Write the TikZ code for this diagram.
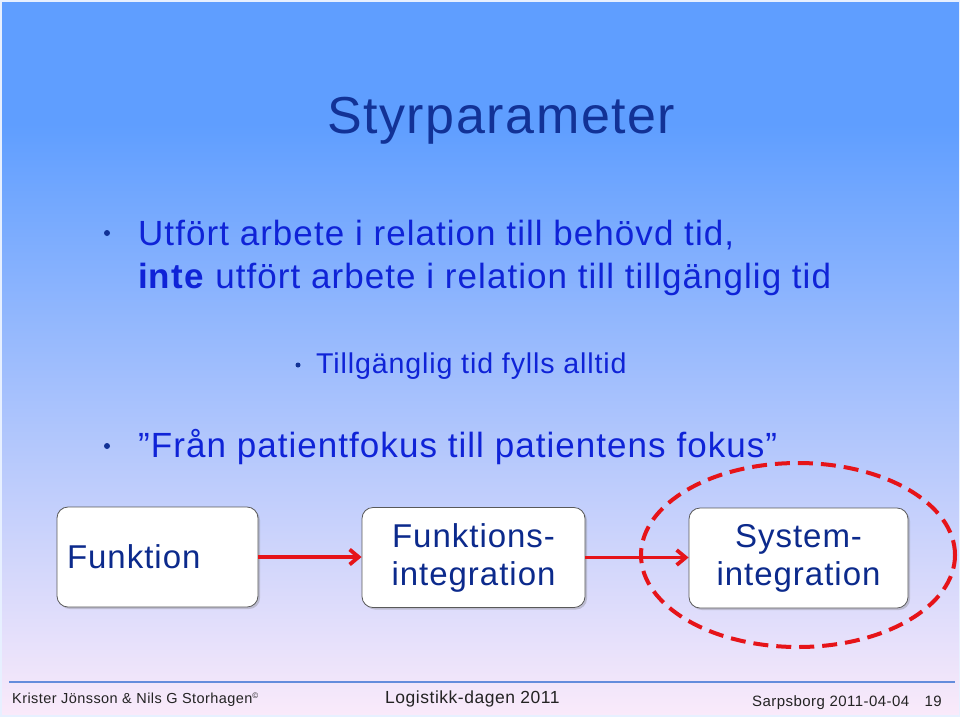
\documentclass[tikz,border=0pt]{standalone}
\usepackage{fontspec}
\setmainfont{Liberation Sans}[LetterSpace=3]
\usepackage{tikz}
\usetikzlibrary{arrows.meta,positioning,shadows}
\definecolor{slideBlue}{RGB}{95,158,255}
\definecolor{slideMid}{RGB}{172,202,246}
\definecolor{slidePink}{RGB}{250,234,250}
\definecolor{titleBlue}{RGB}{18,50,150}
\definecolor{bulletBlue}{RGB}{15,35,215}
\definecolor{boxBlue}{RGB}{12,42,140}
\definecolor{flowRed}{RGB}{230,20,25}
\definecolor{footLine}{RGB}{100,140,220}
\definecolor{footGray}{RGB}{35,35,35}

\begin{document}
\begin{tikzpicture}[x=1pt,y=-1pt,
    txt/.style={anchor=base west, inner sep=0pt},
    bulletdot/.style={circle, fill=titleBlue, inner sep=0pt, minimum size=6pt},
    stage/.style={draw=black!65, line width=0.8pt, fill=white, rounded corners=11pt,
        minimum height=100pt, text=boxBlue, font=\fontsize{33}{38}\selectfont,
        drop shadow={shadow xshift=2pt, shadow yshift=-2pt, opacity=0.35}},
    flow/.style={flowRed, line width=3.8pt, -{Straight Barb[length=9pt,width=15pt]}}]

    % background
    \useasboundingbox (0,0) rectangle (960,716);
    \fill[slideBlue] (0,0) rectangle (960,125);
    \shade[top color=slideBlue, middle color=slideMid, bottom color=slidePink]
        (0,124) rectangle (960,716);
    \draw[white!85!slideBlue, line width=3pt] (0,0) rectangle (960,716);

    % title
    \node[txt, text=titleBlue, font=\fontsize{52}{60}\selectfont] (title) at (327,133) {Styrparameter};

    % bullets
    \node[bulletdot] (dot1) at (107,233) {};
    \node[txt, text=bulletBlue, font=\fontsize{35}{42}\selectfont] (line1) at (138,245)
        {Utfört arbete i relation till behövd tid,};
    \node[txt, text=bulletBlue, font=\fontsize{35}{42}\selectfont] (line2) at (138,288)
        {\textbf{inte} utfört arbete i relation till tillgänglig tid};
    \node[bulletdot, minimum size=5pt] (dot2) at (298,365) {};
    \node[txt, text=bulletBlue, font=\fontsize{28.6}{34}\selectfont] (line3) at (316,373)
        {Tillgänglig tid fylls alltid};
    \node[bulletdot] (dot3) at (107,446) {};
    \node[txt, text=bulletBlue, font=\fontsize{35}{42}\selectfont] (line4) at (138,457)
        {”Från patientfokus till patientens fokus”};

    % chain of stages
    \node[stage, minimum width=201pt, text width=181pt, inner sep=10pt, align=left] (funk) at (157.5,557) {Funktion};
    \node[stage, minimum width=223pt, align=center] (funkint) at (473.5,557.5) {Funktions-\\integration};
    \node[stage, minimum width=219pt, align=center] (sysint) at (798.5,558) {System-\\integration};
    \draw[flow] (funk) -- (funk -| funkint.west);
    \draw[flow] (funkint) -- (funkint -| sysint.west);

    % focus ring
    \coordinate (focus) at (798,555);
    \draw[flowRed, line width=4pt, dash pattern=on 15pt off 8pt]
        (focus) ellipse [x radius=157pt, y radius=92pt];

    % footer
    \coordinate (footL) at (9,682);
    \coordinate (footR) at (955,682);
    \draw[footLine, line width=1.2pt] (footL) -- (footR);
    \node[txt, text=footGray, font=\fontsize{14.5}{16}\selectfont] (authors) at (12,703)
        {Krister Jönsson \& Nils G Storhagen{\fontsize{8}{8}\selectfont\raisebox{5pt}{©}}};
    \node[txt, text=footGray, font=\fontsize{17.5}{20}\selectfont] (event) at (385,703) {Logistikk-dagen 2011};
    \node[txt, text=footGray, font=\fontsize{15}{18}\selectfont] (place) at (752,706) {Sarpsborg 2011-04-04};
    \node[anchor=base east, inner sep=0pt, text=footGray, font=\fontsize{15}{18}\selectfont] (page) at (942,706) {19};

\end{tikzpicture}
\end{document}
